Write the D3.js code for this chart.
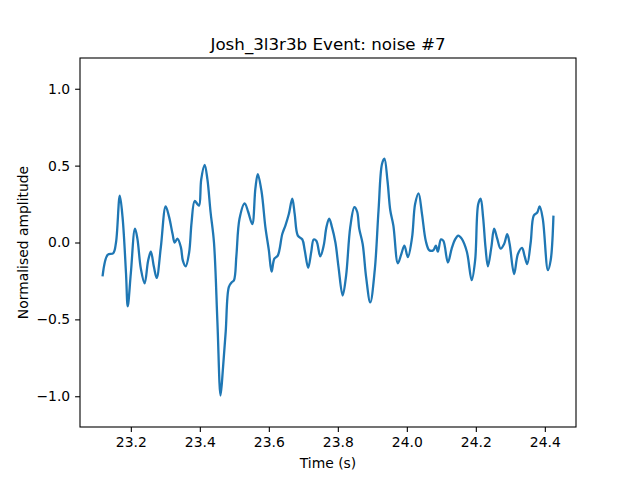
<!DOCTYPE html>
<html>
<head>
<meta charset="utf-8">
<script src="https://cdn.jsdelivr.net/npm/d3@7"></script>
<style>
  body { margin: 0; background: #fff; }
  text { font-family: "DejaVu Sans", sans-serif; fill: #000; }
</style>
</head>
<body>
<div id="chart"></div>
<script>
const width = 640;
const height = 480;
const margin = { top: 58, right: 64, bottom: 53, left: 80 };

const titleText = "Josh_3l3r3b Event: noise #7";
const xLabel = "Time (s)";
const yLabel = "Normalised amplitude";

// time (s) and normalised amplitude
const times = [
    23.118, 23.133, 23.149, 23.157, 23.168, 23.176, 23.186, 23.191, 23.200, 23.212,
    23.219, 23.229, 23.240, 23.250, 23.258, 23.267, 23.275, 23.287, 23.301, 23.311,
    23.321, 23.327, 23.335, 23.345, 23.351, 23.359, 23.369, 23.376, 23.385, 23.393,
    23.398, 23.404, 23.414, 23.422, 23.431, 23.441, 23.451, 23.460, 23.467, 23.475,
    23.484, 23.492, 23.499, 23.506, 23.515, 23.530, 23.540, 23.552, 23.561, 23.568,
    23.579, 23.590, 23.600, 23.608, 23.616, 23.626, 23.639, 23.648, 23.658, 23.668,
    23.675, 23.684, 23.697, 23.704, 23.714, 23.723, 23.730, 23.738, 23.749, 23.759,
    23.767, 23.775, 23.783, 23.793, 23.802, 23.814, 23.824, 23.836, 23.848, 23.856,
    23.862, 23.872, 23.882, 23.894, 23.907, 23.918, 23.928, 23.935, 23.944, 23.952,
    23.961, 23.974, 23.984, 23.993, 24.003, 24.015, 24.024, 24.034, 24.044, 24.055,
    24.065, 24.077, 24.084, 24.090, 24.099, 24.106, 24.119, 24.130, 24.140, 24.149,
    24.159, 24.174, 24.188, 24.198, 24.207, 24.214, 24.221, 24.228, 24.235, 24.245,
    24.253, 24.262, 24.272, 24.282, 24.291, 24.298, 24.311, 24.322, 24.334, 24.341,
    24.349, 24.359, 24.368, 24.378, 24.385, 24.394, 24.409, 24.417, 24.425
];
const amplitudes = [
    -0.22, -0.08, -0.07, 0.00, 0.305, 0.165, -0.20, -0.415, -0.20, 0.09,
    0.025, -0.17, -0.265, -0.12, -0.06, -0.16, -0.23, -0.03, 0.235, 0.165,
    0.055, 0.00, 0.025, -0.03, -0.12, -0.155, -0.065, 0.13, 0.27, 0.25,
    0.24, 0.41, 0.505, 0.41, 0.20, 0.00, -0.52, -0.995, -0.82, -0.58,
    -0.29, -0.26, -0.245, -0.085, 0.155, 0.255, 0.20, 0.12, 0.35, 0.445,
    0.33, 0.10, -0.05, -0.19, -0.105, -0.085, 0.055, 0.11, 0.185, 0.285,
    0.185, 0.045, 0.02, -0.05, -0.165, -0.06, 0.02, 0.01, -0.09, -0.02,
    0.10, 0.155, 0.10, 0.00, -0.16, -0.345, -0.215, 0.10, 0.23, 0.20,
    0.09, -0.01, -0.225, -0.39, -0.18, 0.21, 0.51, 0.545, 0.40, 0.21,
    0.11, -0.135, -0.075, -0.02, -0.095, 0.03, 0.25, 0.32, 0.185, 0.01,
    -0.05, -0.05, -0.02, -0.06, 0.02, 0.01, -0.13, -0.04, 0.02, 0.045,
    0.025, -0.06, -0.245, -0.115, 0.25, 0.285, 0.165, -0.03, -0.155, -0.03,
    0.09, 0.025, -0.04, -0.01, 0.055, -0.01, -0.205, -0.075, -0.035, -0.085,
    -0.14, 0.00, 0.175, 0.195, 0.235, 0.155, -0.18, -0.115, 0.175
];
const xTicks = [23.2, 23.4, 23.6, 23.8, 24.0, 24.2, 24.4];
const yTicks = [-1.0, -0.5, 0.0, 0.5, 1.0];
const yLimits = [-1.2, 1.2];

const data = times.map((t, i) => ({ t: t, a: amplitudes[i] }));

const innerW = width - margin.left - margin.right;
const innerH = height - margin.top - margin.bottom;

const svg = d3.select("#chart")
    .append("svg")
    .attr("width", width)
    .attr("height", height);

const g = svg.append("g")
    .attr("transform", `translate(${margin.left}, ${margin.top})`);

// matplotlib style 5% margin on x
const tExtent = d3.extent(times);
const pad = (tExtent[1] - tExtent[0]) * 0.05;

const xScale = d3.scaleLinear()
    .domain([tExtent[0] - pad, tExtent[1] + pad])
    .range([0, innerW]);

const yScale = d3.scaleLinear()
    .domain(yLimits)
    .range([innerH, 0]);

const line = d3.line()
    .x(d => xScale(d.t))
    .y(d => yScale(d.a))
    .curve(d3.curveCatmullRom.alpha(0.5));

g.append("path")
    .datum(data)
    .attr("fill", "none")
    .attr("stroke", "#1f77b4")
    .attr("stroke-width", 2.3)
    .attr("stroke-linejoin", "round")
    .attr("d", line);

const xAxis = d3.axisBottom(xScale)
    .tickValues(xTicks)
    .tickFormat(d3.format(".1f"))
    .tickSize(4.9)
    .tickPadding(4.9);

const yAxis = d3.axisLeft(yScale)
    .tickValues(yTicks)
    .tickFormat(d3.format(".1f"))
    .tickSize(4.9)
    .tickPadding(4.9);

const gx = g.append("g")
    .attr("transform", `translate(0, ${innerH})`)
    .call(xAxis);
const gy = g.append("g").call(yAxis);

[gx, gy].forEach(ax => {
    ax.select(".domain").remove();
    ax.selectAll(".tick line").attr("stroke", "#000").attr("stroke-width", 1.1);
    ax.selectAll(".tick text")
        .style("font-family", "'DejaVu Sans', sans-serif")
        .style("font-size", "13.9px");
});

// axes frame
g.append("rect")
    .attr("width", innerW)
    .attr("height", innerH)
    .attr("fill", "none")
    .attr("stroke", "#000")
    .attr("stroke-width", 1.1);

svg.append("text")
    .attr("x", margin.left + innerW / 2)
    .attr("y", margin.top - 8.3)
    .attr("text-anchor", "middle")
    .style("font-size", "16.7px")
    .text(titleText);

svg.append("text")
    .attr("x", margin.left + innerW / 2)
    .attr("y", 468)
    .attr("text-anchor", "middle")
    .style("font-size", "13.9px")
    .text(xLabel);

svg.append("text")
    .attr("transform", `translate(28, ${margin.top + innerH / 2}) rotate(-90)`)
    .attr("text-anchor", "middle")
    .style("font-size", "13.9px")
    .text(yLabel);
</script>
</body>
</html>
